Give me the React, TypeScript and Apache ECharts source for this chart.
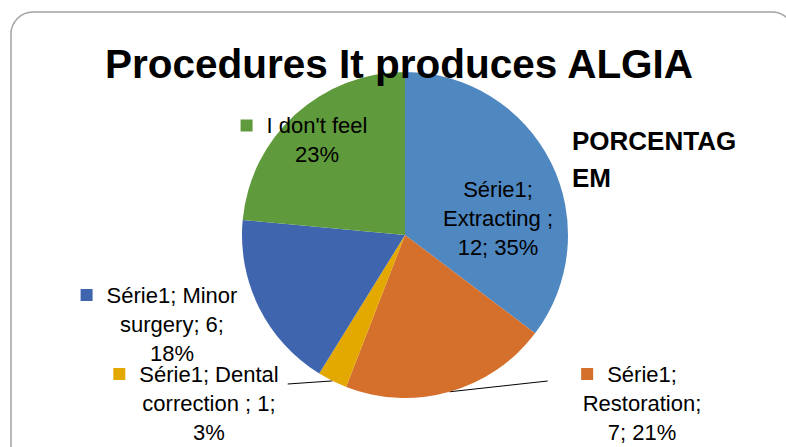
import { useEffect, useRef } from 'react';
import * as echarts from 'echarts';

// ---- data ----
const chartTitle = 'Procedures It produces ALGIA';
const legendTitle = 'PORCENTAG\nEM';
const seriesName = 'Série1';
const categories = ['Extracting ', 'Restoration', 'Dental correction ', 'Minor surgery', "I don't feel"];
const values = [12, 7, 1, 6, 8];
const sliceColors = ['#4f87c0', '#d46f2c', '#e4a900', '#3e65ae', '#5f9a3d'];
// which parts each Excel-style data label shows
const showSeriesName = [true, true, true, true, false];
const showValue = [true, true, true, true, false];
const showLegendKey = [false, true, true, true, true];
const showLeader = [false, true, true, false, false];

// ---- layout (not data) ----
const FONT = '"Liberation Sans", Arial, sans-serif';
const LABEL_SIZE = 22;
const LINE_H = 29;
const labelCenters = [[498, 218], [629, 403], [196, 403], [159, 324], [304, 140]];
const wrapWidths = [115, 125, 145, 145, 110];
const leaderSide = ['', 'left', 'right', '', ''];
const leaderDy = [0, 18, 21, 0, 0];

function wrapText(text: string, maxW: number): string[] {
  const ctx = document.createElement('canvas').getContext('2d')!;
  ctx.font = `${LABEL_SIZE}px ${FONT}`;
  const words = text.split(' ');
  const lines: string[] = [];
  let cur = '';
  for (const w of words) {
    const cand = cur ? cur + ' ' + w : w;
    if (cur && ctx.measureText(cand).width > maxW) {
      lines.push(cur);
      cur = w;
    } else cur = cand;
  }
  if (cur) lines.push(cur);
  return lines;
}

export default function App() {
  const ref = useRef<HTMLDivElement>(null);
  useEffect(() => {
    if (!ref.current) return;
    const chart = echarts.init(ref.current, undefined, { renderer: 'svg' });

    const rich: Record<string, any> = {
      t: { fontFamily: FONT, fontSize: LABEL_SIZE, color: '#000', lineHeight: LINE_H },
      g: { width: 14, lineHeight: LINE_H },
      p: { width: 26, lineHeight: LINE_H },
    };
    sliceColors.forEach((c, i) => {
      rich['k' + i] = { width: 12, height: 12, backgroundColor: c };
    });

    const data = categories.map((name, i) => ({
      name,
      value: values[i],
      itemStyle: { color: sliceColors[i] },
      labelLine: { show: showLeader[i], lineStyle: { color: '#000', width: 1 } },
    }));

    chart.setOption({
      animation: false,
      backgroundColor: '#fff',
      title: [
        {
          text: chartTitle,
          left: 105,
          top: 43,
          padding: 0,
          textStyle: { fontFamily: FONT, fontWeight: 'bold', fontSize: 40.5, color: '#000' },
        },
        {
          text: legendTitle,
          left: 572,
          top: 122,
          padding: 0,
          textStyle: { fontFamily: FONT, fontWeight: 'bold', fontSize: 26, lineHeight: 37, color: '#000' },
        },
      ],
      graphic: [
        {
          type: 'rect',
          silent: true,
          z: -1,
          shape: { x: 11, y: 12, width: 783, height: 470, r: 22 },
          style: { fill: 'none', stroke: '#a3a3a3', lineWidth: 1.5 },
        },
      ],
      series: [
        {
          type: 'pie',
          name: seriesName,
          center: [405, 235],
          radius: 163,
          startAngle: 90,
          clockwise: true,
          percentPrecision: 0,
          avoidLabelOverlap: false,
          minShowLabelAngle: 0,
          itemStyle: { borderWidth: 0 },
          label: {
            show: true,
            position: 'outside',
            color: '#000',
            align: 'center',
            rich,
            formatter: (p: any) => {
              const i = p.dataIndex;
              const parts: string[] = [];
              if (showSeriesName[i]) parts.push(p.seriesName + ';');
              parts.push(p.name + (showValue[i] ? ';' : ''));
              if (showValue[i]) parts.push(p.value + ';');
              parts.push(Math.round(p.percent) + '%');
              const lines = wrapText(parts.join(' '), wrapWidths[i]);
              return lines
                .map((l, li) => {
                  if (!showLegendKey[i]) return `{t|${l}}`;
                  return li === 0 ? `{k${i}|}{g|}{t|${l}}` : `{p|}{t|${l}}`;
                })
                .join('\n');
            },
          },
          labelLine: { show: false },
          labelLayout: (p: any) => {
            const i = p.dataIndex;
            const [cx, cy] = labelCenters[i];
            const w = p.labelRect.width;
            const h = p.labelRect.height;
            const res: any = { x: cx, y: cy, align: 'center', verticalAlign: 'middle' };
            if (leaderSide[i] && p.labelLinePoints) {
              const start = p.labelLinePoints[0];
              const endX = leaderSide[i] === 'left' ? cx - w / 2 - 9 : cx + w / 2 + 9;
              const endY = cy - h / 2 + leaderDy[i];
              res.labelLinePoints = [start, [endX, endY]];
            }
            return res;
          },
          data,
        },
      ],
    });
    return () => chart.dispose();
  }, []);
  return <div ref={ref} style={{ position: 'fixed', left: 0, top: 0, width: 786, height: 447 }} />;
}
